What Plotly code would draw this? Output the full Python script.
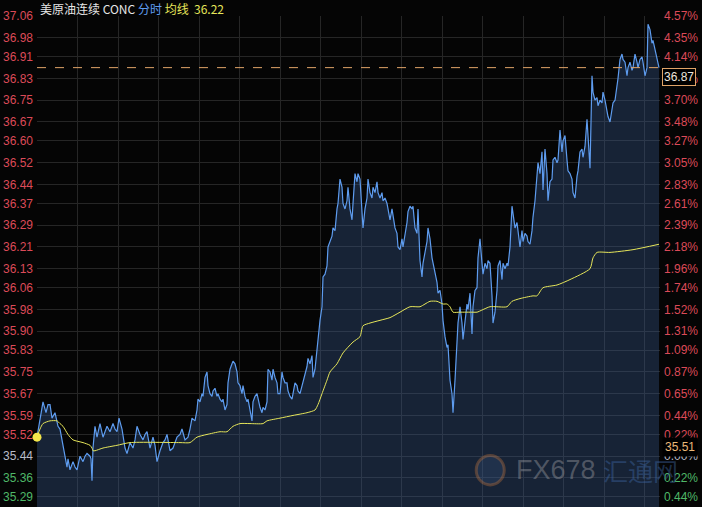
import plotly.graph_objects as go

# ---------------- data ----------------
title_name = "美原油连续 CONC"
mode_label = "分时"
avg_label = "均线"
base_price = 35.44      # 0.00% reference
settle_price = 35.51    # label shown on right axis

price_minute = [
    0, 3, 6, 9, 11, 13, 15, 18, 21, 23,
    25, 26, 28, 30, 31, 33, 36, 38, 40, 43,
    46, 48, 50, 53, 54, 55, 56, 58, 60, 63,
    66, 68, 70, 73, 76, 78, 80, 82, 85, 88,
    90, 93, 96, 98, 100, 103, 106, 108, 110, 113,
    116, 118, 120, 123, 126, 128, 130, 133, 136, 138,
    140, 143, 145, 148, 151, 153, 155, 158, 160, 161,
    163, 165, 166, 168, 170, 171, 173, 175, 176, 178,
    180, 181, 183, 185, 186, 188, 190, 191, 193, 195,
    196, 198, 200, 201, 203, 205, 206, 208, 210, 211,
    213, 215, 216, 218, 220, 221, 223, 225, 226, 228,
    230, 231, 233, 235, 236, 238, 240, 241, 243, 245,
    246, 248, 250, 251, 253, 255, 256, 258, 260, 261,
    263, 265, 266, 268, 270, 271, 273, 275, 276, 278,
    280, 281, 283, 285, 286, 288, 290, 291, 293, 295,
    296, 298, 300, 301, 303, 305, 306, 308, 310, 311,
    313, 315, 316, 318, 320, 321, 323, 325, 326, 328,
    330, 331, 333, 335, 336, 338, 340, 341, 343, 345,
    346, 348, 350, 351, 353, 355, 356, 358, 360, 361,
    363, 365, 366, 368, 370, 371, 373, 375, 376, 378,
    380, 381, 383, 385, 386, 388, 390, 391, 393, 395,
    396, 398, 400, 401, 403, 405, 406, 408, 410, 411,
    413, 415, 416, 418, 420, 421, 423, 425, 426, 428,
    430, 431, 433, 435, 436, 438, 440, 441, 443, 445,
    446, 448, 450, 451, 453, 455, 456, 458, 460, 461,
    463, 465, 466, 468, 470, 471, 473, 475, 476, 478,
    480, 481, 483, 485, 486, 488, 490, 491, 493, 495,
    496, 498, 500, 501, 503, 505, 506, 508, 510, 511,
    513, 515, 516, 518, 520, 521, 523, 525, 526, 528,
    530, 531, 533, 535, 536, 538, 540, 541, 543, 545,
    546, 548, 550, 551, 553, 555, 556, 558, 560, 561,
    563, 565, 566, 568, 570, 571, 573, 575, 576, 578,
    580, 581, 583, 585, 586, 588, 590, 591, 593, 595,
    596, 598, 600, 601, 603, 605, 606, 608, 610, 611,
    613, 615, 616, 618, 620, 621, 622,
]
price = [
    35.51, 35.58, 35.64, 35.60, 35.63, 35.63, 35.58, 35.60, 35.55, 35.54,
    35.50, 35.49, 35.44, 35.40, 35.43, 35.39, 35.42, 35.40, 35.39, 35.44,
    35.42, 35.44, 35.45, 35.44, 35.43, 35.35, 35.47, 35.55, 35.51, 35.56,
    35.51, 35.53, 35.55, 35.53, 35.56, 35.54, 35.53, 35.58, 35.54, 35.47,
    35.45, 35.49, 35.47, 35.50, 35.55, 35.52, 35.50, 35.52, 35.53, 35.47,
    35.51, 35.48, 35.42, 35.46, 35.49, 35.50, 35.52, 35.46, 35.47, 35.49,
    35.51, 35.52, 35.54, 35.50, 35.51, 35.54, 35.58, 35.57, 35.61, 35.65,
    35.64, 35.67, 35.66, 35.73, 35.75, 35.70, 35.67, 35.66, 35.68, 35.69,
    35.66, 35.67, 35.65, 35.64, 35.65, 35.61, 35.63, 35.71, 35.76, 35.78,
    35.79, 35.78, 35.75, 35.71, 35.70, 35.67, 35.70, 35.66, 35.64, 35.65,
    35.61, 35.57, 35.64, 35.66, 35.67, 35.65, 35.62, 35.60, 35.62, 35.61,
    35.64, 35.76, 35.75, 35.72, 35.76, 35.73, 35.71, 35.67, 35.67, 35.75,
    35.73, 35.71, 35.71, 35.68, 35.66, 35.65, 35.67, 35.71, 35.70, 35.68,
    35.67, 35.70, 35.71, 35.75, 35.77, 35.80, 35.78, 35.81, 35.73, 35.76,
    35.84, 35.86, 35.94, 35.99, 36.10, 36.11, 36.14, 36.21, 36.23, 36.25,
    36.28, 36.27, 36.35, 36.37, 36.46, 36.43, 36.37, 36.35, 36.38, 36.43,
    36.35, 36.31, 36.37, 36.48, 36.45, 36.48, 36.46, 36.32, 36.28, 36.35,
    36.39, 36.46, 36.41, 36.39, 36.43, 36.41, 36.45, 36.41, 36.39, 36.41,
    36.38, 36.39, 36.37, 36.35, 36.31, 36.35, 36.32, 36.28, 36.26, 36.21,
    36.20, 36.24, 36.21, 36.25, 36.30, 36.34, 36.36, 36.35, 36.36, 36.28,
    36.26, 36.35, 36.16, 36.10, 36.15, 36.19, 36.23, 36.28, 36.24, 36.17,
    36.15, 36.11, 36.08, 36.04, 36.05, 36.00, 35.94, 35.88, 35.84, 35.85,
    35.72, 35.67, 35.60, 35.72, 35.90, 35.93, 35.99, 35.93, 35.87, 35.94,
    36.00, 35.98, 36.04, 35.89, 35.99, 36.05, 36.06, 36.17, 36.24, 36.15,
    36.11, 36.15, 36.13, 36.16, 36.15, 36.03, 35.93, 35.97, 36.05, 36.14,
    36.16, 36.09, 36.15, 36.13, 36.15, 36.14, 36.21, 36.36, 36.33, 36.28,
    36.30, 36.27, 36.21, 36.27, 36.23, 36.26, 36.25, 36.23, 36.22, 36.27,
    36.32, 36.38, 36.47, 36.52, 36.48, 36.56, 36.42, 36.57, 36.48, 36.38,
    36.45, 36.46, 36.53, 36.54, 36.52, 36.53, 36.64, 36.56, 36.60, 36.62,
    36.53, 36.49, 36.48, 36.46, 36.41, 36.39, 36.47, 36.49, 36.56, 36.57,
    36.54, 36.58, 36.68, 36.63, 36.50, 36.84, 36.78, 36.75, 36.76, 36.73,
    36.75, 36.74, 36.78, 36.75, 36.71, 36.69, 36.67, 36.71, 36.74, 36.75,
    36.80, 36.83, 36.90, 36.92, 36.90, 36.89, 36.84, 36.87, 36.89, 36.86,
    36.87, 36.92, 36.89, 36.87, 36.90, 36.91, 36.89, 36.84, 36.87, 37.03,
    37.01, 36.96, 36.97, 36.94, 36.90, 36.89, 36.87,
]

avg_minute = [
    0, 3, 6, 13, 20, 23, 26, 31, 36, 46,
    53, 55, 56, 58, 66, 80, 93, 143, 153, 160,
    170, 183, 190, 196, 203, 213, 226, 230, 243, 256,
    270, 278, 281, 285, 290, 293, 300, 306, 316, 323,
    326, 333, 343, 353, 363, 373, 383, 388, 393, 400,
    406, 410, 413, 416, 423, 436, 440, 453, 470, 475,
    483, 496, 500, 506, 520, 533, 553, 556, 560, 573,
    596, 622,
]
avg = [
    35.51, 35.54, 35.56, 35.57, 35.57, 35.56, 35.55, 35.52, 35.50, 35.49,
    35.48, 35.47, 35.46, 35.46, 35.47, 35.48, 35.49, 35.49, 35.49, 35.51,
    35.52, 35.53, 35.53, 35.55, 35.56, 35.56, 35.56, 35.57, 35.58, 35.59,
    35.60, 35.61, 35.63, 35.67, 35.72, 35.75, 35.78, 35.82, 35.86, 35.88,
    35.92, 35.93, 35.94, 35.95, 35.97, 35.99, 35.99, 36.00, 36.01, 36.01,
    36.00, 36.00, 35.99, 35.97, 35.97, 35.97, 35.97, 35.99, 35.99, 36.01,
    36.02, 36.03, 36.03, 36.06, 36.07, 36.09, 36.13, 36.17, 36.19, 36.19,
    36.20, 36.22,
]

left_ticks = [
    37.06, 36.98, 36.91, 36.83, 36.75, 36.67, 36.60, 36.52, 36.44, 36.37,
    36.29, 36.21, 36.13, 36.06, 35.98, 35.90, 35.83, 35.75, 35.67, 35.59,
    35.52, 35.44, 35.36, 35.29,
]
right_labels = [
    "4.57%", "4.35%", "4.14%", "3.92%", "3.70%", "3.48%", "3.27%", "3.05%", "2.83%", "2.61%",
    "2.39%", "2.18%", "1.96%", "1.74%", "1.52%", "1.31%", "1.09%", "0.87%", "0.65%", "0.44%",
    "0.22%", "0.00%", "0.22%", "0.44%",
]

# ---------------- styling ----------------
BG = "#050505"
GRID = "#262626"
RED = "#dc4a58"
GREEN = "#4fb868"
NEUTRAL = "#b8bcc8"
BLUE = "#5e9cef"
YELLOW = "#e6e65a"
ORANGE = "#e0a468"
FONT = "Liberation Sans, Arial, sans-serif"


def tick_color(v):
    if v > base_price + 1e-9:
        return RED
    if v < base_price - 1e-9:
        return GREEN
    return NEUTRAL


left_text = [f"<span style='color:{tick_color(v)}'>{v:.2f}</span>" for v in left_ticks]
right_text = [f"<span style='color:{tick_color(v)}'>{t}</span>" for v, t in zip(left_ticks, right_labels)]

y_lo, y_hi = 35.253, 37.06
x_hi = 623

fig = go.Figure()

fig.add_trace(go.Scatter(
    x=price_minute, y=price, mode="lines",
    line=dict(color=BLUE, width=1.2),
    fill="tozeroy", fillcolor="rgba(55,88,140,0.36)",
    hoverinfo="skip", showlegend=False,
))
fig.add_trace(go.Scatter(
    x=avg_minute, y=avg, mode="lines", line_shape="spline",
    line=dict(color=YELLOW, width=1, smoothing=0.6),
    hoverinfo="skip", showlegend=False,
))
fig.add_trace(go.Scatter(
    x=[avg_minute[0]], y=[avg[0]], mode="markers",
    marker=dict(color="#f4e64a", size=9),
    cliponaxis=False, hoverinfo="skip", showlegend=False,
))
# anchor trace for the right (percent) axis
fig.add_trace(go.Scatter(
    x=[price_minute[0]], y=[price[0]], yaxis="y2", mode="markers",
    marker=dict(opacity=0), hoverinfo="skip", showlegend=False,
))

fig.update_layout(
    width=702, height=507,
    margin=dict(l=37, r=42, t=16, b=0),
    paper_bgcolor=BG, plot_bgcolor=BG,
    font=dict(family=FONT, size=12),
    xaxis=dict(
        range=[0, x_hi], showticklabels=False, ticks="",
        tickvals=[40.5 * k for k in range(16)],
        showgrid=True, gridcolor=GRID, gridwidth=1, zeroline=False,
        showline=False,
    ),
    yaxis=dict(
        range=[y_lo, y_hi], tickvals=left_ticks, ticktext=left_text,
        showgrid=True, gridcolor=GRID, gridwidth=1, zeroline=False,
        ticks="", ticklabelstandoff=3, tickfont=dict(family=FONT, size=12),
    ),
    yaxis2=dict(
        range=[y_lo, y_hi], overlaying="y", side="right",
        tickvals=left_ticks, ticktext=right_text,
        showgrid=False, zeroline=False, ticks="", ticklabelstandoff=3,
        tickfont=dict(family=FONT, size=12),
    ),
)

# last price dashed line
fig.add_shape(type="line", xref="paper", x0=0, x1=1, yref="y",
              y0=price[-1], y1=price[-1],
              line=dict(color=ORANGE, width=1, dash="dash"))

annotations = [
    # title
    dict(xref="paper", yref="paper", x=0, y=1, xanchor="left", yanchor="middle",
         xshift=1, yshift=8, showarrow=False,
         text=(f"<span style='color:#e6e6e6'>{title_name}</span> "
               f"<span style='color:{BLUE}'>{mode_label}</span> "
               f"<span style='color:{YELLOW}'>{avg_label}</span>  "
               f"<span style='color:{YELLOW}'>{avg[-1]:.2f}</span>"),
         font=dict(family="Noto Sans CJK SC, " + FONT, size=12)),
    # last price box
    dict(xref="paper", yref="y", x=1, y=price[-1], xanchor="left", yanchor="top",
         xshift=2, showarrow=False, text=f"{price[-1]:.2f}",
         font=dict(family=FONT, size=12, color="#ece4dc"),
         bgcolor="#000000", bordercolor=ORANGE, borderwidth=1, borderpad=1),
    # settlement label
    dict(xref="paper", yref="y", x=1, y=settle_price, xanchor="left", yanchor="top",
         xshift=2, showarrow=False, text=f"{settle_price:.2f}",
         font=dict(family=FONT, size=12, color="#eab878"),
         bgcolor="#000000", borderpad=2),
    # watermark
    dict(xref="paper", yref="paper", x=0.766, y=0.075, xanchor="left", yanchor="middle",
         showarrow=False, text="FX678",
         font=dict(family=FONT, size=27, color="rgba(150,150,155,0.45)")),
    dict(xref="paper", yref="paper", x=0.905, y=0.075, xanchor="left", yanchor="middle",
         showarrow=False, text="汇通网",
         font=dict(family="Noto Sans CJK SC", size=25, color="rgba(60,100,160,0.45)")),
]
fig.update_layout(annotations=annotations)

# watermark logo ring
fig.add_shape(type="circle", xref="paper", yref="paper",
              x0=0.705, x1=0.75, y0=0.045, y1=0.105,
              line=dict(color="rgba(200,120,60,0.35)", width=3),
              fillcolor="rgba(60,90,140,0.25)")

fig.write_html(
    "out.html",
    config={"displayModeBar": False},
    post_script="document.body.style.margin='0';document.body.style.background='#050505';",
)
